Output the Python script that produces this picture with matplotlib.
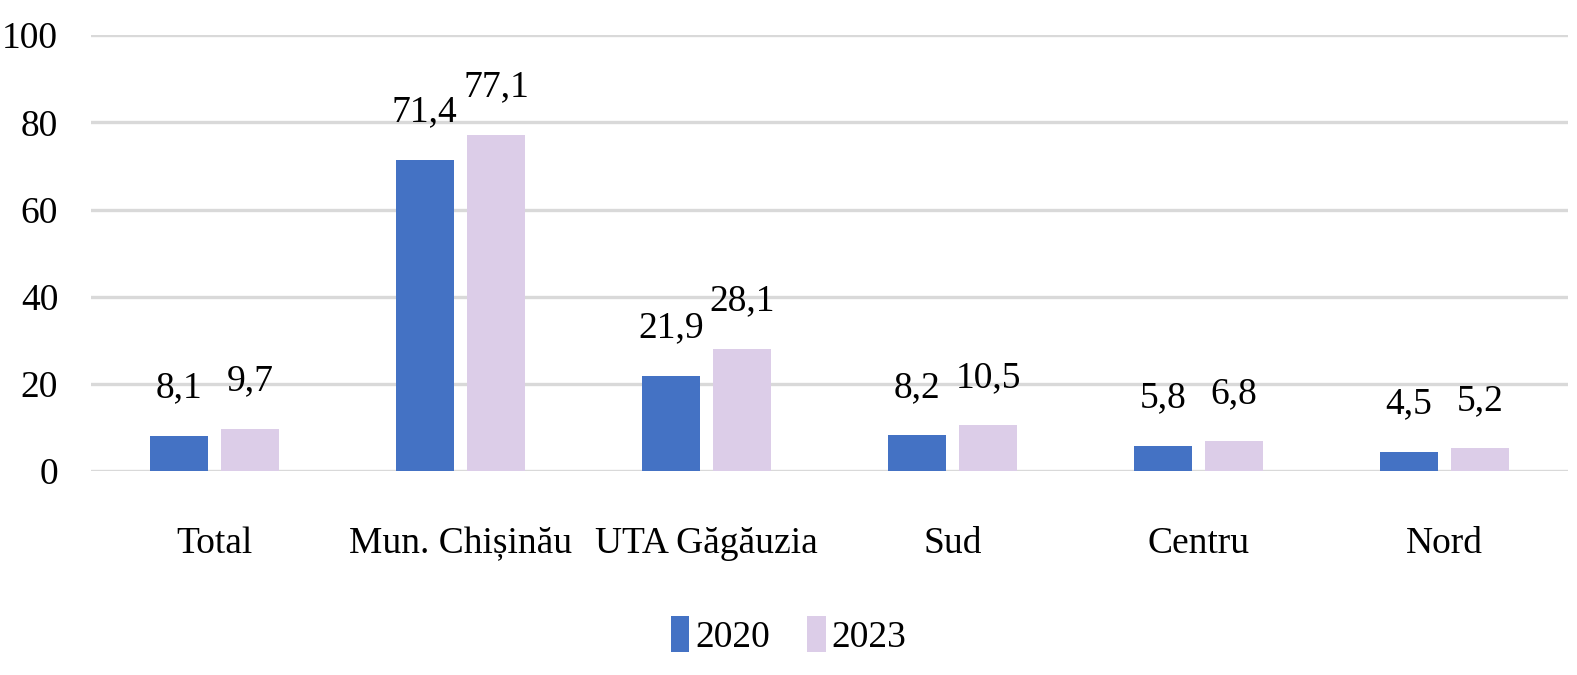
import numpy as np
import matplotlib.pyplot as plt

categories = ["Total", "Mun. Chișinău", "UTA Găgăuzia", "Sud", "Centru", "Nord"]
years = ["2020", "2023"]
v2020 = [8.1, 71.4, 21.9, 8.2, 5.8, 4.5]
v2023 = [9.7, 77.1, 28.1, 10.5, 6.8, 5.2]
colors = ["#4472C4", "#DCCDE8"]

plt.rcParams['font.family'] = ['Liberation Serif', 'DejaVu Serif']
fs = 27

fig = plt.figure(figsize=(15.77, 6.75), dpi=100)
ax = fig.add_axes([0.058, 0.302, 0.936, 0.646])

x = np.arange(len(categories))
w = 0.235
off = 0.145
b1 = ax.bar(x - off, v2020, w, color=colors[0], label=years[0], zorder=3)
b2 = ax.bar(x + off, v2023, w, color=colors[1], label=years[1], zorder=3)

for bars, vals in ((b1, v2020), (b2, v2023)):
    for r, v in zip(bars, vals):
        ax.annotate(str(v).replace('.', ','), (r.get_x() + r.get_width() / 2, v),
                    xytext=(0, 22), textcoords='offset points',
                    ha='center', va='bottom', fontsize=fs)

ax.set_xlim(-0.5, len(categories) - 0.5)
ax.set_ylim(0, 100)
ax.set_yticks(range(0, 101, 20))
ax.yaxis.grid(True, color='#D9D9D9', linewidth=2.4, zorder=0)
ax.set_axisbelow(True)
for s in ax.spines.values():
    s.set_visible(False)
ax.tick_params(axis='both', length=0, labelsize=fs)
ax.tick_params(axis='y', pad=24)
ax.tick_params(axis='x', pad=40)
ax.set_xticks(x)
ax.set_xticklabels(categories)

fig.legend(loc='lower center', bbox_to_anchor=(0.5, -0.02), ncol=2, frameon=False,
           fontsize=fs, handlelength=0.5, handleheight=1.1, handletextpad=0.15,
           columnspacing=1.0)

fig.savefig('out.png', dpi=100)
